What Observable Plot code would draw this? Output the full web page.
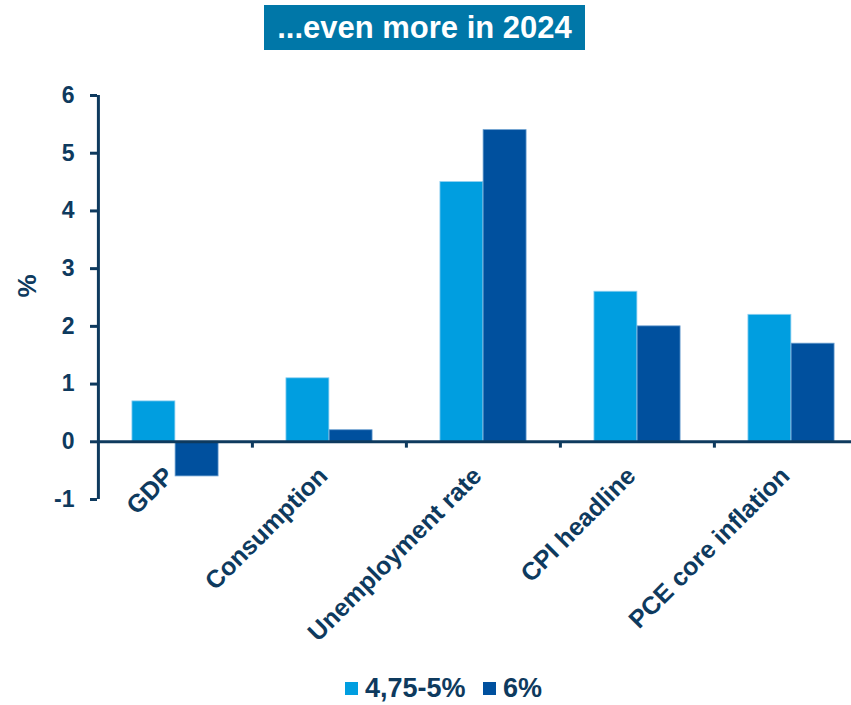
<!DOCTYPE html>
<html>
<head>
<meta charset="utf-8">
<script src="https://cdn.jsdelivr.net/npm/d3@7"></script>
<script src="https://cdn.jsdelivr.net/npm/@observablehq/plot@0.6"></script>
<style>
  html, body { margin: 0; padding: 0; background: #fff; overflow: hidden; }
  body { width: 851px; height: 705px; font-family: "Liberation Sans", Arial, sans-serif; }
  #title-wrap { height: 60px; position: relative; }
  #title { position: absolute; left: 264px; top: 5px; height: 45px; width: 321px; background: #0077a8;
           color: #fff; font-weight: bold; font-size: 31px; line-height: 46px; text-align: center; white-space: nowrap; }
  #chart { height: 610px; }
  #legend { position: relative; height: 35px; }
  .item { position: absolute; top: 3px; display: flex; align-items: center; font-weight: bold; font-size: 27px; color: #0e3a5e; }
  .sw { width: 13px; height: 13px; margin-right: 7px; }
</style>
</head>
<body>
<div id="title-wrap"><div id="title">...even more in 2024</div></div>
<div id="chart"></div>
<div id="legend"></div>
<script>
const categories = ["GDP", "Consumption", "Unemployment rate", "CPI headline", "PCE core inflation"];
const seriesNames = ["4,75-5%", "6%"];
const values475 = [0.7, 1.1, 4.5, 2.6, 2.2];
const values6 = [-0.6, 0.2, 5.4, 2.0, 1.7];
const yTicks = [-1, 0, 1, 2, 3, 4, 5, 6];
const colors = ["#009ee0", "#00509e"];
const navy = "#0e3a5e";

const rows = categories.flatMap((c, i) => [
  {category: c, series: seriesNames[0], value: values475[i]},
  {category: c, series: seriesNames[1], value: values6[i]}
]);

const W = 851, H = 610, ML = 97, MR = -17, MT = 35, MB = 171;
const bw = (W - ML - MR) / categories.length;

const chart = Plot.plot({
  width: W, height: H,
  marginLeft: ML, marginRight: MR, marginTop: MT, marginBottom: MB,
  style: {fontFamily: "Liberation Sans, Arial, sans-serif", fontWeight: "bold", color: navy, background: "transparent", overflow: "visible"},
  x: {type: "band", domain: categories, padding: 0, axis: null},
  y: {domain: [-1, 6]},
  marks: [
    Plot.text(categories, {x: d => d, y: d => 0, rotate: -45, textAnchor: "end", dx: -6, dy: 30, fontSize: 25, fill: navy}),
    Plot.barY(rows.filter(d => d.series === seriesNames[0]), {x: "category", y: "value", fill: colors[0],
      insetLeft: bw * 0.22, insetRight: bw * 0.5, stroke: "#8fd0f0", strokeWidth: 0.8}),
    Plot.barY(rows.filter(d => d.series === seriesNames[1]), {x: "category", y: "value", fill: colors[1],
      insetLeft: bw * 0.5, insetRight: bw * 0.22, stroke: "#6a9fd0", strokeWidth: 0.8}),
    Plot.ruleY([0], {stroke: navy, strokeWidth: 3}),
    Plot.ruleX([categories[0]], {x: d => d, y1: -1, y2: 6, dx: -bw / 2, stroke: navy, strokeWidth: 3}),
    Plot.ruleX(categories.slice(1), {x: d => d, y1: 0, y2: -0.11, dx: -bw / 2, stroke: navy, strokeWidth: 3}),
    Plot.axisY({ticks: yTicks, tickFormat: () => "", tickSize: 7, stroke: navy, strokeWidth: 3, label: null}),
    Plot.text(yTicks, {y: d => d, frameAnchor: "left", textAnchor: "end", dx: -23, fontSize: 23, fill: navy, text: d => String(d)}),
    Plot.text(["%"], {frameAnchor: "left", dx: -70, rotate: -90, fontSize: 26, fill: navy})
  ]
});
document.getElementById("chart").appendChild(chart);

const legend = document.getElementById("legend");
const lefts = [345, 483];
seriesNames.forEach((s, i) => {
  const it = document.createElement("div");
  it.className = "item";
  it.style.left = lefts[i] + "px";
  const sw = document.createElement("span");
  sw.className = "sw";
  sw.style.background = colors[i];
  it.appendChild(sw);
  it.appendChild(document.createTextNode(s));
  legend.appendChild(it);
});
</script>
</body>
</html>
